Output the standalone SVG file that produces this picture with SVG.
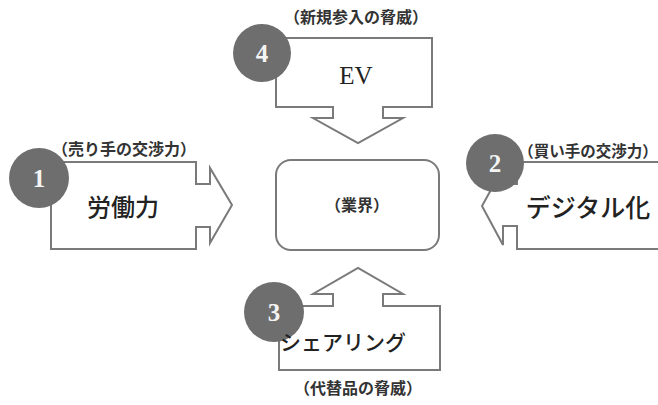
<svg xmlns="http://www.w3.org/2000/svg" width="658" height="405" viewBox="0 0 658 405">
<style>
.arrow{fill:#fff;stroke:#7a7a7a;stroke-width:2;stroke-linejoin:miter}
.box{fill:#fff;stroke:#7a7a7a;stroke-width:2}
.badge{fill:#6e6e6e}
.num{font-family:"Liberation Serif",serif;font-size:25px;font-weight:bold;fill:#f4f4f4;text-anchor:middle}
.sub{font-family:"Noto Sans CJK JP",sans-serif;font-size:16px;font-weight:bold;fill:#333;text-anchor:middle}
.main{font-family:"Noto Sans CJK JP",sans-serif;font-size:24px;font-weight:500;fill:#222;text-anchor:middle}
.ev{font-family:"Liberation Serif",serif;font-size:25px;fill:#222;text-anchor:middle}
</style>
<rect width="658" height="405" fill="#fff"/>
<g id="connectors">
<polygon id="arrow1" class="arrow" points="51,162 196,162 196,184 210,184 210,168 232,205 210,243 210,227 196,227 196,249 51,249"/>
<polygon id="arrow2" class="arrow" points="670,162 517,162 517,184 503,184 503,168 482,206 503,245 503,226 517,226 517,249 670,249"/>
<polygon id="arrow4" class="arrow" points="276,38 432,38 432,107 383,107 383,118 403,118 358,143 313,118 333,118 333,107 276,107"/>
<polygon id="arrow3" class="arrow" points="279,306 333,306 333,294 313,294 358,268 403,294 383,294 383,306 440,306 440,370 279,370"/>
</g>
<g id="industry">
<rect class="box" x="276" y="160" width="163" height="90" rx="15"/>
<text class="sub" x="357" y="211">（業界）</text>
</g>
<g id="node1">
<circle class="badge" cx="39" cy="178" r="30"/>
<text class="num" x="39" y="187">1</text>
<text class="sub" x="124" y="155">（売り手の交渉力）</text>
<text class="main" x="123" y="216">労働力</text>
</g>
<g id="node2">
<circle class="badge" cx="495" cy="163" r="29"/>
<text class="num" x="495" y="172">2</text>
<text class="sub" x="588" y="157" style="font-size:15.5px">（買い手の交渉力）</text>
<text class="main" x="588" y="217" style="font-size:25px">デジタル化</text>
</g>
<g id="node3">
<circle class="badge" cx="274" cy="312" r="30"/>
<text class="num" x="274" y="321">3</text>
<text class="main" x="343" y="350" style="font-size:21px">シェアリング</text>
<text class="sub" x="358" y="394">（代替品の脅威）</text>
</g>
<g id="node4">
<circle class="badge" cx="262" cy="53" r="29"/>
<text class="num" x="262" y="62">4</text>
<text class="ev" x="356" y="84">EV</text>
<text class="sub" x="356" y="23">（新規参入の脅威）</text>
</g>
</svg>
